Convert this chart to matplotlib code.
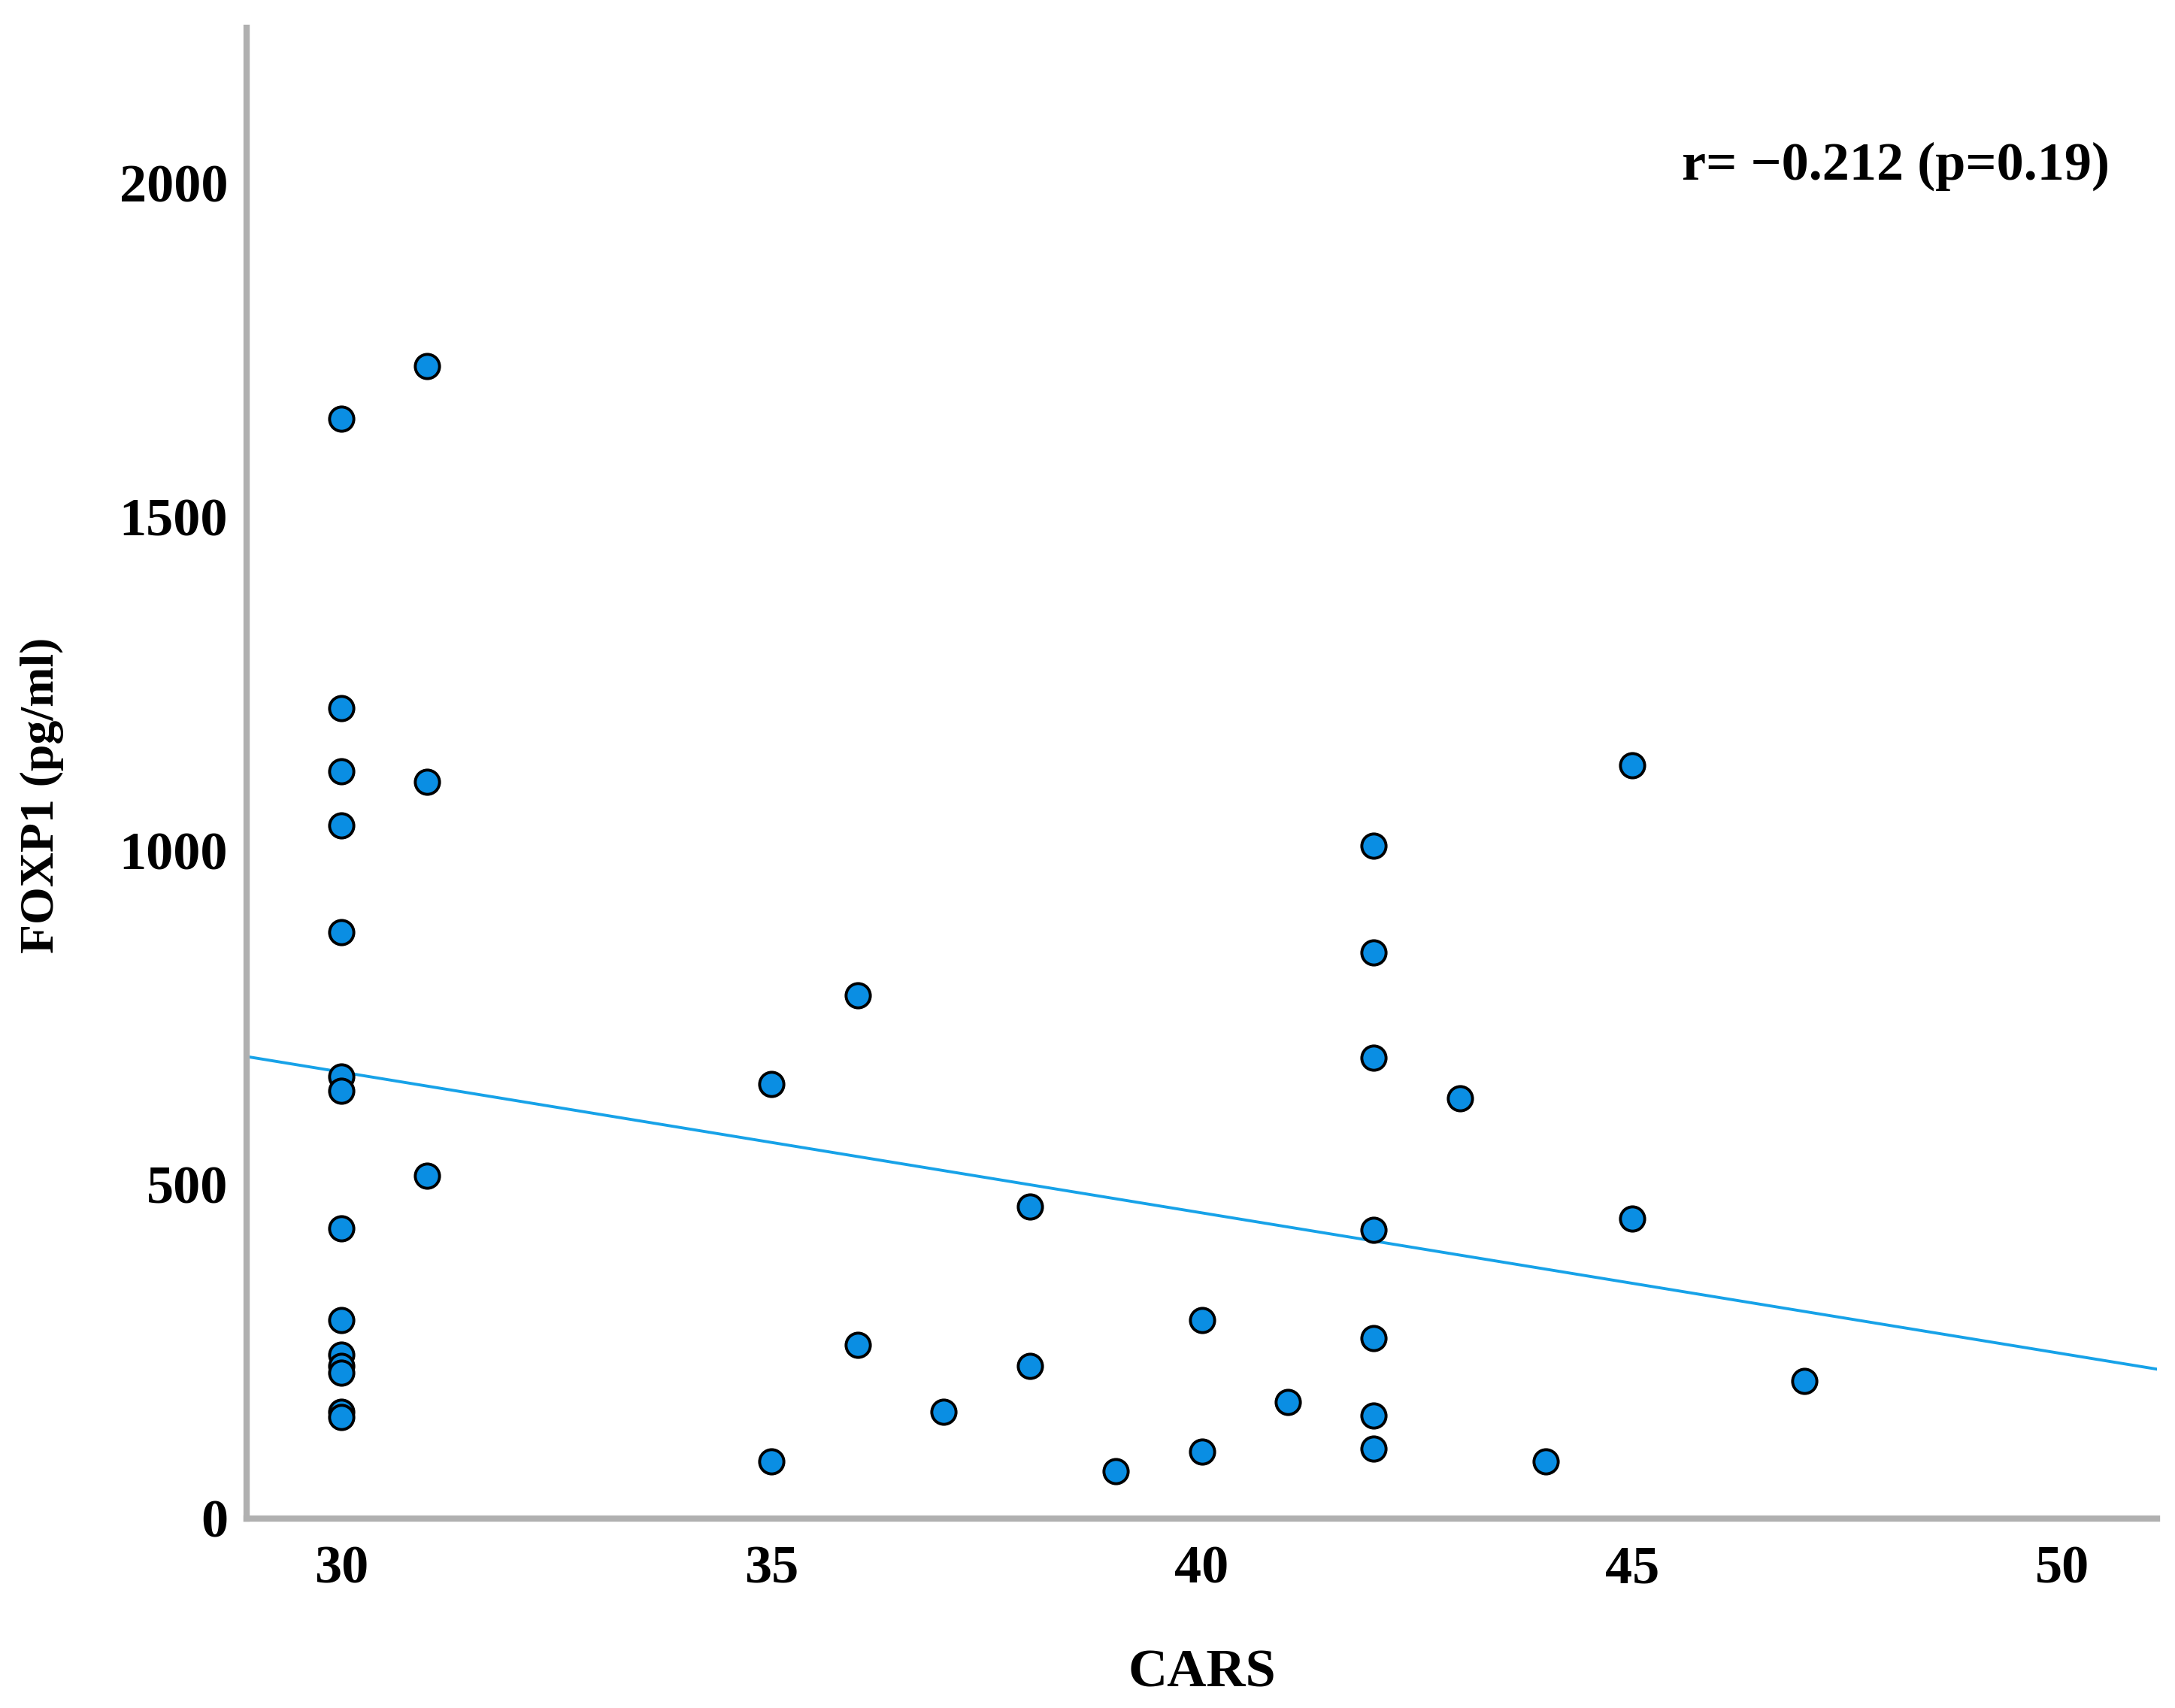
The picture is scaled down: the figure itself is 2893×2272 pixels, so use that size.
import numpy as np
import matplotlib
matplotlib.use("Agg")
import matplotlib.pyplot as plt

plt.rcParams['font.family'] = ['Liberation Serif', 'DejaVu Serif']

cars = [30, 30, 30, 30, 30, 30, 30, 30, 30, 30, 30, 30, 30, 30,
        31, 31, 31,
        35, 35, 36, 36, 37, 38, 38, 39, 40, 40, 41,
        42, 42, 42, 42, 42, 42, 42,
        43, 44, 45, 45, 47]
foxp1 = [1647, 1213, 1119, 1038, 878, 662, 640, 434, 297, 245, 228, 218, 160, 152,
         1726, 1103, 513,
         650, 85, 783, 260, 160, 467, 228, 71, 297, 100, 174,
         1007, 847, 690, 432, 270, 154, 104,
         629, 85, 1128, 449, 206]
xticks = [30, 35, 40, 45, 50]
yticks = [0, 500, 1000, 1500, 2000]
annotation = "r= \u22120.212 (p=0.19)"

FS = 52

fig = plt.figure(figsize=(28.93, 22.72), dpi=100)
ax = fig.add_axes([0.1134, 0.111, 0.8783, 0.8727])

x = np.array(cars, dtype=float)
y = np.array(foxp1, dtype=float)
slope, intercept = np.polyfit(x, y, 1)
xl = np.array([28.9, 51.1])
ax.plot(xl, slope * xl + intercept, color='#17a2e8', lw=2.8, zorder=2)

ax.scatter(x, y, s=540, facecolor='#0a8ee3', edgecolor='black', linewidth=2.8, zorder=3)

ax.set_xlim(28.9, 51.1)
ax.set_ylim(0, 2232)
ax.set_xticks(xticks)
ax.set_yticks(yticks)
ax.tick_params(axis='both', length=0, labelsize=FS)
ax.tick_params(axis='x', pad=26)
ax.tick_params(axis='y', pad=18)
for lab in ax.get_xticklabels() + ax.get_yticklabels():
    lab.set_fontweight('bold')

for s in ['top', 'right']:
    ax.spines[s].set_visible(False)
for s in ['left', 'bottom']:
    ax.spines[s].set_color('#b0b0b0')
    ax.spines[s].set_linewidth(6)

ax.set_xlabel('CARS', fontsize=FS, fontweight='bold', labelpad=52)
ax.set_ylabel('FOXP1 (pg/ml)', fontsize=46, fontweight='bold', va='center', ha='center')
ax.yaxis.set_label_coords(-0.107, 0.485)

ax.text(50.55, 2025, annotation, fontsize=FS, fontweight='bold', ha='right', va='center')

fig.savefig('out.png', dpi=100)
